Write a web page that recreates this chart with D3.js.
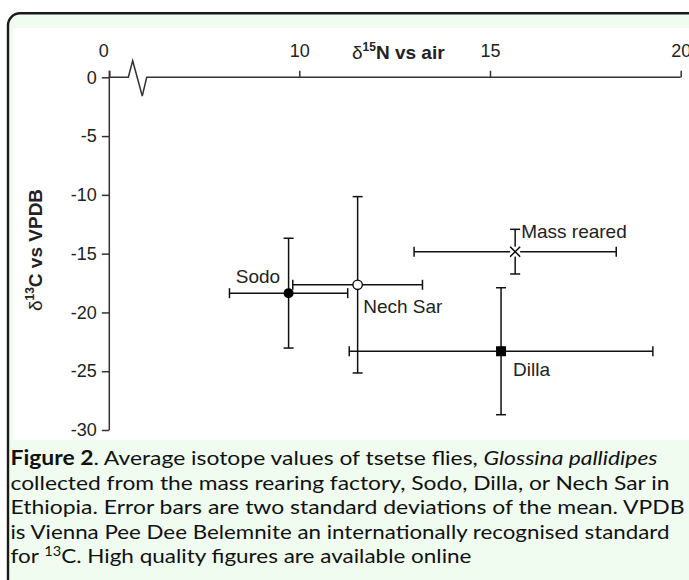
<!DOCTYPE html>
<meta charset="utf-8">
<style>
  body { margin: 0; background: #fff; }
  svg { display: block; }
</style>
<body>
<div id="chart"></div>
<script src="https://cdn.jsdelivr.net/npm/d3@7"></script>
<script>

var width = 689,
    height = 580;

// values
var sites = ["Sodo", "Nech Sar", "Mass reared", "Dilla"];
var markers = ["dot", "ring", "cross", "square"];
var n15 = [9.72, 11.53, 15.66, 15.29];
var n15_sd = [1.55, 1.70, 2.65, 3.98];
var c13 = [-18.36, -17.65, -14.83, -23.3];
var c13_sd = [4.67, 7.5, 1.9, 5.4];

var xTicks = [0, 10, 15, 20];
var yTicks = [0, -5, -10, -15, -20, -25, -30];
// axis break drawn between 0 and 6
var breakVals = [3.05, 3.75, 5.29, 6];

var caption = [
  [{t: "Figure 2", w: "bold"}, {t: ". Average isotope values of tsetse flies, "}, {t: "Glossina pallidipes", s: "italic"}],
  [{t: "collected from the mass rearing factory, Sodo, Dilla, or Nech Sar in"}],
  [{t: "Ethiopia. Error bars are two standard deviations of the mean. VPDB"}],
  [{t: "is Vienna Pee Dee Belemnite an internationally recognised standard"}],
  [{t: "for "}, {t: "13", sup: true}, {t: "C. High quality figures are available online"}]
];
var captionWidths = [647, 659, 674, 659, 461];

var green = '#effcef',
    ink = '#222',
    axis_color = '#333';

var svg = d3.select("#chart").append("svg")
    .attr("width", width)
    .attr("height", height);

// frame
svg.append("rect")
    .attr("x", 8).attr("y", 13.3)
    .attr("width", 720).attr("height", 620)
    .attr("rx", 12)
    .style("fill", green)
    .style("stroke", "#1a1a1a")
    .style("stroke-width", 2.4);
svg.append("rect")
    .attr("x", 13).attr("y", 28)
    .attr("width", width - 13).attr("height", 412)
    .style("fill", "#fff");

var x = d3.scaleLinear().domain([0, 6, 20]).range([109.3, 146.7, 680.7]);
var y = d3.scaleLinear().domain([0, -30]).range([77.3, 430]);

var font = "'Liberation Sans', Arial, sans-serif";
var plain = function(d) { return String(d); };

// x axis (top, with a break)
var xg = svg.append("g")
    .attr("transform", "translate(0," + y(0) + ")")
    .call(d3.axisTop(x).tickValues(xTicks).tickSize(6.6).tickPadding(14).tickFormat(plain));
xg.select(".domain").remove();
xg.selectAll("line").style("stroke", axis_color).style("stroke-width", 1.5);
xg.selectAll("text")
    .style("font-family", font).style("font-size", "18px").style("fill", ink)
    .attr("dy", 0);
xg.selectAll(".tick").filter(function(d) { return d === 0; }).select("text").attr("x", -6);

var breakLine = [[0, 0], [breakVals[0], 0], [breakVals[1], 1.41], [breakVals[2], -1.59], [breakVals[3], 0], [20, 0]];
svg.append("path")
    .datum(breakLine)
    .attr("d", d3.line().x(function(d) { return x(d[0]); }).y(function(d) { return y(d[1]); }))
    .style("fill", "none")
    .style("stroke", axis_color)
    .style("stroke-width", 1.5);

// y axis
var yg = svg.append("g")
    .attr("transform", "translate(" + x(0) + ",0)")
    .call(d3.axisLeft(y).tickValues(yTicks).tickSize(7.5).tickPadding(5).tickFormat(plain));
yg.select(".domain").remove();
yg.selectAll("line").style("stroke", axis_color).style("stroke-width", 1.5);
yg.selectAll("text")
    .style("font-family", font).style("font-size", "18px").style("fill", ink);
svg.append("line")
    .attr("x1", x(0)).attr("x2", x(0))
    .attr("y1", y(0) - 6.6).attr("y2", y(-30))
    .style("stroke", axis_color)
    .style("stroke-width", 1.5);

// axis titles
var xt = svg.append("text")
    .attr("x", 352).attr("y", 59)
    .style("font-family", font).style("font-size", "19px").style("fill", ink);
xt.append("tspan").text("\u03b4");
xt.append("tspan").attr("dy", -8).style("font-size", "12px").style("font-weight", "bold").text("15");
xt.append("tspan").attr("dy", 8).style("font-weight", "bold").text("N vs air");

var yt = svg.append("text")
    .attr("transform", "translate(42,250) rotate(-90)")
    .attr("text-anchor", "middle")
    .style("font-family", font).style("font-size", "19px").style("fill", ink);
yt.append("tspan").text("\u03b4");
yt.append("tspan").attr("dy", -8).style("font-size", "12px").style("font-weight", "bold").text("13");
yt.append("tspan").attr("dy", 8).style("font-weight", "bold").text("C vs VPDB");

// error bars
var cap = 5;
var pts = sites.map(function(s, i) {
  return {site: s, m: markers[i], x: n15[i], xe: n15_sd[i], y: c13[i], ye: c13_sd[i]};
});

var bars = svg.append("g")
    .style("stroke", "#111")
    .style("stroke-width", 1.5)
    .style("fill", "none");

pts.forEach(function(p) {
  var cx = x(p.x), cy = y(p.y),
      x0 = x(p.x - p.xe), x1 = x(p.x + p.xe),
      y0 = y(p.y + p.ye), y1 = y(p.y - p.ye);
  bars.append("line").attr("x1", x0).attr("x2", x1).attr("y1", cy).attr("y2", cy);
  bars.append("line").attr("x1", x0).attr("x2", x0).attr("y1", cy - cap).attr("y2", cy + cap);
  bars.append("line").attr("x1", x1).attr("x2", x1).attr("y1", cy - cap).attr("y2", cy + cap);
  bars.append("line").attr("x1", cx).attr("x2", cx).attr("y1", y0).attr("y2", y1);
  bars.append("line").attr("x1", cx - cap).attr("x2", cx + cap).attr("y1", y0).attr("y2", y0);
  bars.append("line").attr("x1", cx - cap).attr("x2", cx + cap).attr("y1", y1).attr("y2", y1);
});

// markers
pts.forEach(function(p) {
  var cx = x(p.x), cy = y(p.y);
  if (p.m == "dot") {
    svg.append("circle").attr("cx", cx).attr("cy", cy).attr("r", 5).style("fill", "#000");
  } else if (p.m == "ring") {
    svg.append("circle").attr("cx", cx).attr("cy", cy).attr("r", 4.7)
        .style("fill", "#fff").style("stroke", "#000").style("stroke-width", 1.3);
  } else if (p.m == "cross") {
    svg.append("rect").attr("x", cx - 5).attr("y", cy - 5).attr("width", 10).attr("height", 10).style("fill", "#fff");
    svg.append("path")
        .attr("d", "M" + (cx - 5) + "," + (cy - 5) + "L" + (cx + 5) + "," + (cy + 5) +
                   "M" + (cx - 5) + "," + (cy + 5) + "L" + (cx + 5) + "," + (cy - 5))
        .style("stroke", "#000").style("stroke-width", 1.4);
  } else {
    svg.append("rect").attr("x", cx - 5).attr("y", cy - 5).attr("width", 10).attr("height", 10).style("fill", "#000");
  }
});

// point labels, offsets in px from the mean
var labelPos = {
  "Sodo": {dx: -8.4, dy: -10, anchor: "end"},
  "Nech Sar": {dx: 5.6, dy: 28.4, anchor: "start"},
  "Mass reared": {dx: 6, dy: -13.4, anchor: "start"},
  "Dilla": {dx: 12, dy: 25, anchor: "start"}
};
svg.selectAll(".site-label")
    .data(pts)
    .enter().append("text")
    .attr("class", "site-label")
    .attr("x", function(d) { return x(d.x) + labelPos[d.site].dx; })
    .attr("y", function(d) { return y(d.y) + labelPos[d.site].dy; })
    .attr("text-anchor", function(d) { return labelPos[d.site].anchor; })
    .style("font-family", font).style("font-size", "19px").style("fill", ink)
    .text(function(d) { return d.site; });

// caption
caption.forEach(function(line, i) {
  var t = svg.append("text")
      .attr("x", 10.5)
      .attr("y", 465 + i * 24.6)
      .attr("textLength", captionWidths[i])
      .attr("lengthAdjust", "spacingAndGlyphs")
      .style("font-family", "Lato, 'Open Sans', sans-serif")
      .style("font-size", "20px")
      .style("fill", "#111");
  line.forEach(function(part, j) {
    var ts = t.append("tspan").text(part.t);
    if (part.w) ts.style("font-weight", part.w);
    if (part.s) ts.style("font-style", part.s);
    if (part.sup) ts.attr("dy", -7).style("font-size", "13px");
    else if (j > 0 && line[j - 1].sup) ts.attr("dy", 7);
  });
});

</script>
</body>
